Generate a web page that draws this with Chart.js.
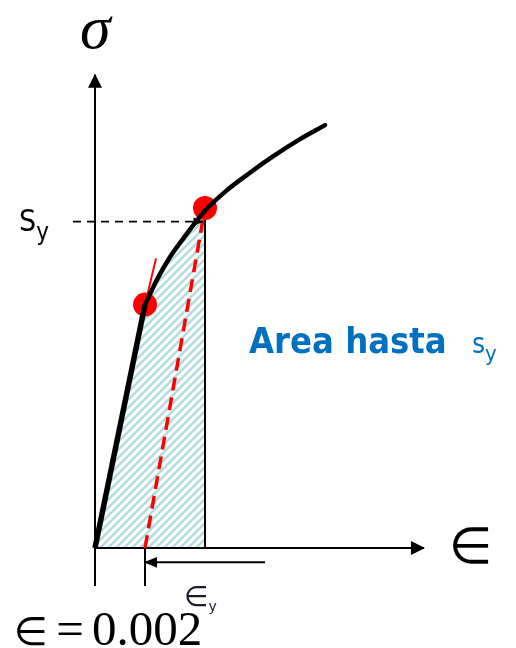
<!DOCTYPE html>
<html>
<head>
<meta charset="utf-8">
<script src="https://cdn.jsdelivr.net/npm/chart.js@4.4.1/dist/chart.umd.min.js"></script>
<style>
  body { margin: 0; background: #fff; }
  #wrap { position: relative; width: 516px; height: 648px; overflow: hidden; }
  #chart { position: absolute; left: 0; top: 0; }
  .lbl { position: absolute; line-height: 1; white-space: nowrap; }
  .serif { font-family: "Liberation Serif", "Times New Roman", serif; }
  .sans { font-family: "DejaVu Sans Condensed", "DejaVu Sans", sans-serif; }
  .math { font-family: "DejaVu Sans", sans-serif; }
</style>
</head>
<body>
<div id="wrap">
  <canvas id="chart" width="516" height="648"></canvas>
  <div class="lbl serif" style="left:80px;top:-4px;font-size:62px;font-style:italic;">σ</div>
  <div class="lbl sans" style="left:19px;top:206px;font-size:30px;">S<span style="font-size:24px;vertical-align:-9px;">y</span></div>
  <div class="lbl sans" style="left:249px;top:323px;font-size:36px;font-weight:bold;color:#0070c0;">Area hasta <span style="font-weight:normal;font-size:28px;margin-left:14px;">s<span style="font-size:22px;vertical-align:-8px;">y</span></span></div>
  <div class="lbl math" style="left:449px;top:521px;font-size:50px;">∈</div>
  <div class="lbl math" style="left:184px;top:583px;font-size:28px;color:#1c1c30;">∈<span style="font-size:14px;vertical-align:-5px;">y</span></div>
  <div class="lbl serif" style="left:14px;top:604px;font-size:49px;word-spacing:-4px;"><span class="math" style="font-size:39px;">∈</span> = 0.002</div>
</div>
<script>
// Values: strain (ε) on x, stress (σ, MPa) on y
const elasticStrain = [0, 0.002];
const elasticStress = [0, 179];

const curveStrain = [0.002, 0.00247, 0.003, 0.00353, 0.0044, 0.00527, 0.0062, 0.00712, 0.0082, 0.0092];
const curveStress = [179, 197, 214, 227.6, 248, 263, 276, 288, 300.7, 311];

// offset line (0.2% rule) and yield point
const offsetStrain = [0.002, 0.0044];
const offsetStress = [0, 250];
const yieldStrain = 0.0044;
const yieldStress = 250;
const syLevel = 240;

// little tangent tick at the proportional limit
const tangentStrain = [0.002, 0.00244];
const tangentStress = [179, 213];

// axis extents and the marks below the x axis
const axisStrainMax = 0.01316;
const axisStressMax = 348;
const tickDepth = -28;
const eyArrowStrain = [0.0068, 0.002];
const eyArrowStress = -10.5;
const syLineStart = -0.00088;

const xMin = -0.0038, xMax = 0.01684;
const yMin = -73.5, yMax = 403;

function pts(xs, ys) {
    return xs.map((x, i) => ({ x: x, y: ys[i] }));
}

// Diagonal hatch used for the area under the curve
function makeHatch() {
    const c = document.createElement('canvas');
    c.width = 8;
    c.height = 8;
    const g = c.getContext('2d');
    g.strokeStyle = '#b2dcdd';
    g.lineWidth = 2.6;
    g.beginPath();
    g.moveTo(-2, 10); g.lineTo(10, -2);
    g.moveTo(-6, 6); g.lineTo(6, -6);
    g.moveTo(2, 14); g.lineTo(14, 2);
    g.stroke();
    return g.createPattern(c, 'repeat');
}

// Draws a filled arrow head at the last point of any dataset with `arrow` set
const arrowHeads = {
    id: 'arrowHeads',
    afterDatasetsDraw(chart) {
        const ctx = chart.ctx;
        chart.data.datasets.forEach((ds, i) => {
            if (!ds.arrow) return;
            const els = chart.getDatasetMeta(i).data;
            const a = els[els.length - 2], b = els[els.length - 1];
            const ang = Math.atan2(b.y - a.y, b.x - a.x);
            const len = ds.arrow, half = len * (ds.arrowRatio || 0.45);
            ctx.save();
            ctx.translate(b.x, b.y);
            ctx.rotate(ang);
            ctx.fillStyle = ds.borderColor;
            ctx.beginPath();
            ctx.moveTo(1, 0);
            ctx.lineTo(-len, -half);
            ctx.lineTo(-len, half);
            ctx.closePath();
            ctx.fill();
            ctx.restore();
        });
    }
};

const hatch = makeHatch();
const curveToYield = curveStrain.filter(x => x <= yieldStrain);

const line = (data, color, width, extra) => Object.assign({
    data: data,
    showLine: true,
    borderColor: color,
    borderWidth: width,
    pointRadius: 0,
    fill: false
}, extra || {});

new Chart(document.getElementById('chart'), {
    type: 'scatter',
    data: {
        // first dataset is drawn on top
        datasets: [
            line(pts(curveStrain, curveStress), '#000', 4.5, { cubicInterpolationMode: 'monotone', borderCapStyle: 'round' }),
            line(pts(elasticStrain, elasticStress), '#000', 5.5),
            line(pts([syLineStart, yieldStrain - 0.0001], [syLevel, syLevel]), '#000', 1.6, { borderDash: [8, 6], arrow: 9 }),
            line(pts(tangentStrain, tangentStress), '#ff0000', 2),
            line(pts([elasticStrain[1], yieldStrain], [elasticStress[1], yieldStress]), '#ff0000', 0, {
                showLine: false, pointRadius: 12, pointBackgroundColor: '#ff0000', pointBorderWidth: 0
            }),
            line(pts(offsetStrain, offsetStress), '#ff0000', 3.5, { borderDash: [13, 7] }),
            line(pts([yieldStrain, yieldStrain], [0, yieldStress]), '#000', 2),
            line(pts([0, 0], [0, axisStressMax]), '#000', 2, { arrow: 13, arrowRatio: 0.54 }),
            line(pts([0, axisStrainMax], [0, 0]), '#000', 2, { arrow: 13, arrowRatio: 0.54 }),
            line(pts([0, 0], [0, tickDepth]), '#000', 2),
            line(pts([0.002, 0.002], [0, tickDepth]), '#000', 2),
            line(pts(eyArrowStrain, [eyArrowStress, eyArrowStress]), '#000', 2, { arrow: 12 }),
            line(pts(elasticStrain, elasticStress), 'rgba(0,0,0,0)', 0, { fill: 'origin', backgroundColor: hatch }),
            line(pts(curveToYield, curveStress.slice(0, curveToYield.length)), 'rgba(0,0,0,0)', 0, {
                fill: 'origin', backgroundColor: hatch, cubicInterpolationMode: 'monotone'
            })
        ]
    },
    options: {
        responsive: false,
        animation: false,
        layout: { padding: 0, autoPadding: false },
        plugins: {
            legend: { display: false },
            tooltip: { enabled: false }
        },
        scales: {
            x: { type: 'linear', min: xMin, max: xMax, display: false },
            y: { type: 'linear', min: yMin, max: yMax, display: false }
        }
    },
    plugins: [arrowHeads]
});
</script>
</body>
</html>
